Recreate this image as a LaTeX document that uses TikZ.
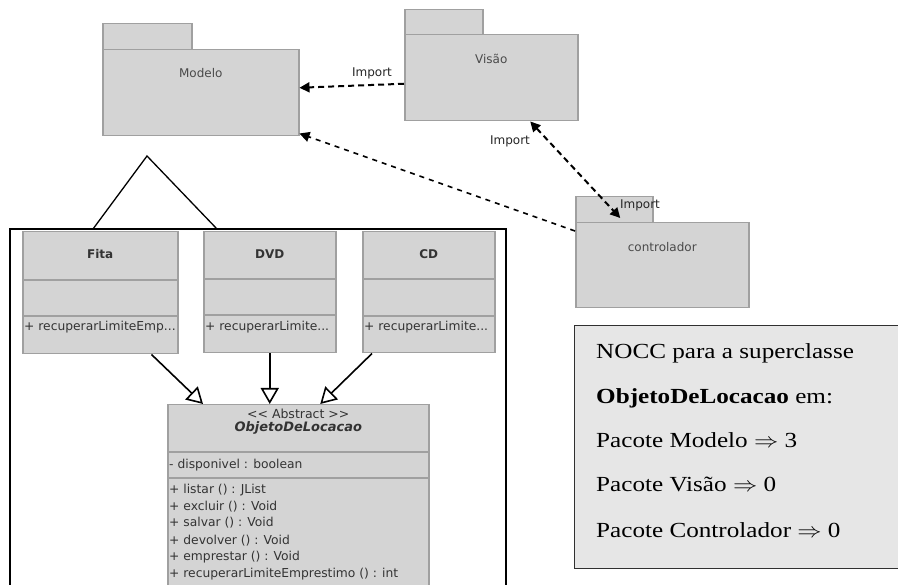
\documentclass[tikz,border=0pt]{standalone}
\usepackage{fontspec}
\usepackage{graphicx}
\setmainfont{Liberation Serif}
\newfontfamily\umlfont{DejaVu Sans}
\usetikzlibrary{arrows.meta}
\definecolor{umlfill}{HTML}{D4D4D4}
\definecolor{umlline}{HTML}{A0A0A0}
\definecolor{umltext}{HTML}{333333}
\definecolor{pkgtext}{HTML}{4A4A4A}
\definecolor{notefill}{HTML}{E6E6E6}
\definecolor{noteline}{HTML}{303030}
% horizontally widened serif text for the note
\newcommand{\widetext}[1]{\scalebox{1.17}[1]{#1}}
\begin{document}
\begin{tikzpicture}[x=1pt,y=-1pt,
  pkgbox/.style={draw=umlline, fill=umlfill, line width=1.5pt, anchor=north west, inner sep=0pt},
  pkgname/.style={font=\umlfont\fontsize{12}{14}\selectfont, text=pkgtext},
  classbox/.style={draw=umlline, fill=umlfill, line width=1.5pt, anchor=north west, inner sep=0pt},
  sepline/.style={draw=umlline, line width=1.5pt},
  cname/.style={font=\umlfont\bfseries\fontsize{12}{14}\selectfont, text=umltext},
  member/.style={font=\umlfont\fontsize{12.3}{15}\selectfont, text=umltext, anchor=base west, inner sep=0pt},
  dep/.style={line width=2pt, dash pattern=on 6pt off 4pt, -{Triangle[length=10pt,width=10pt]}},
  gen/.style={line width=1.6pt, -{Triangle[open,length=16pt,width=18pt]}},
  deplabel/.style={font=\umlfont\fontsize{12}{14}\selectfont, text=black!85},
  notetext/.style={font=\fontsize{21.5}{24}\selectfont, anchor=base west, inner sep=0pt}
]
\useasboundingbox (0,0) rectangle (898,585);
\fill[white] (0,0) rectangle (898,585);
\clip (0,0) rectangle (898,585);

% --- packages -------------------------------------------------------
\node[pkgbox, minimum width=89pt, minimum height=26pt] (modelo-tab) at (102,23) {};
\node[pkgbox, minimum width=196pt, minimum height=86pt] (modelo) at (102,49) {};
\node[pkgname] (modelo-name) at ([yshift=-24pt]modelo.north) {Modelo};

\node[pkgbox, minimum width=78pt, minimum height=25pt] (visao-tab) at (404,9) {};
\node[pkgbox, minimum width=173pt, minimum height=86pt] (visao) at (404,34) {};
\node[pkgname] (visao-name) at ([yshift=-25pt]visao.north) {Visão};

\node[pkgbox, minimum width=77pt, minimum height=26pt] (ctrl-tab) at (575,196) {};
\node[pkgbox, minimum width=173pt, minimum height=85pt] (ctrl) at (575,222) {};
\node[pkgname] (ctrl-name) at ([yshift=-25pt]ctrl.north) {controlador};

% --- import dependencies --------------------------------------------
\draw[dep] ([yshift=-6pt]visao.west) -- ([yshift=5pt]modelo.east);
\node[deplabel] (imp1) at (372,73) {Import};

\draw[dep, line width=1.6pt, dash pattern=on 5pt off 5pt] ([yshift=-9pt]ctrl.north west) -- ([yshift=3pt]modelo.south east);

\draw[dep, {Triangle[length=10pt,width=10pt]}-{Triangle[length=10pt,width=10pt]}]
  ([xshift=39pt]visao.south) -- ([xshift=-42pt,yshift=4pt]ctrl.north);
\node[deplabel] (imp2) at (510,141) {Import};
\node[deplabel] (imp3) at (640,205) {Import};

% --- package frame with its roof outline -----------------------------
\coordinate (frame-bl) at (10,590);
\coordinate (frame-tl) at (10,229);
\coordinate (frame-tr) at (506,229);
\coordinate (frame-br) at (506,590);
\coordinate (roof-l) at (93,229);
\coordinate (roof-top) at (147,156);
\coordinate (roof-r) at (217,229);
\draw[line width=1.3pt] (frame-bl) -- (frame-tl) -- (frame-tr) -- (frame-br);
\draw[line width=1.3pt] (roof-l) -- (roof-top) -- (roof-r);

% --- subclasses ------------------------------------------------------
\node[classbox, minimum width=155pt, minimum height=122pt] (fita) at (22,231) {};
\draw[sepline] ([yshift=-49pt]fita.north west) -- ([yshift=-49pt]fita.north east);
\draw[sepline] ([yshift=-85pt]fita.north west) -- ([yshift=-85pt]fita.north east);
\node[cname] (fita-name) at ([yshift=-23pt]fita.north) {Fita};
\node[member] (fita-op) at ([xshift=2pt,yshift=-100pt]fita.north west) {+ recuperarLimiteEmp...};

\node[classbox, minimum width=132pt, minimum height=121pt] (dvd) at (203,231) {};
\draw[sepline] ([yshift=-48pt]dvd.north west) -- ([yshift=-48pt]dvd.north east);
\draw[sepline] ([yshift=-84pt]dvd.north west) -- ([yshift=-84pt]dvd.north east);
\node[cname] (dvd-name) at ([yshift=-23pt]dvd.north) {DVD};
\node[member] (dvd-op) at ([xshift=2pt,yshift=-100pt]dvd.north west) {+ recuperarLimite...};

\node[classbox, minimum width=132pt, minimum height=121pt] (cd) at (362,231) {};
\draw[sepline] ([yshift=-48pt]cd.north west) -- ([yshift=-48pt]cd.north east);
\draw[sepline] ([yshift=-85pt]cd.north west) -- ([yshift=-85pt]cd.north east);
\node[cname] (cd-name) at ([yshift=-23pt]cd.north) {CD};
\node[member] (cd-op) at ([xshift=2pt,yshift=-100pt]cd.north west) {+ recuperarLimite...};

% --- abstract superclass ---------------------------------------------
\node[classbox, minimum width=261pt, minimum height=185pt] (obj) at (167,404) {};
\draw[sepline] ([yshift=-48pt]obj.north west) -- ([yshift=-48pt]obj.north east);
\draw[sepline] ([yshift=-74pt]obj.north west) -- ([yshift=-74pt]obj.north east);
\node[font=\umlfont\fontsize{12.5}{14}\selectfont, text=umltext] (obj-stereo) at ([yshift=-10pt]obj.north) {<< Abstract >>};
\node[font=\umlfont\bfseries\itshape\fontsize{13}{15}\selectfont, text=umltext] (obj-name) at ([yshift=-24pt]obj.north) {ObjetoDeLocacao};
\node[member] (obj-attr) at ([xshift=2pt,yshift=-65pt]obj.north west) {- disponivel : boolean};
\node[member] (obj-m1) at ([xshift=2pt,yshift=-90pt]obj.north west) {+ listar () : JList};
\node[member] (obj-m2) at ([xshift=2pt,yshift=-107pt]obj.north west) {+ excluir () : Void};
\node[member] (obj-m3) at ([xshift=2pt,yshift=-123pt]obj.north west) {+ salvar () : Void};
\node[member] (obj-m4) at ([xshift=2pt,yshift=-140pt]obj.north west) {+ devolver () : Void};
\node[member] (obj-m5) at ([xshift=2pt,yshift=-157pt]obj.north west) {+ emprestar () : Void};
\node[member] (obj-m6) at ([xshift=2pt,yshift=-173pt]obj.north west) {+ recuperarLimiteEmprestimo () : int};

% --- generalisations -------------------------------------------------
\draw[gen] ([xshift=-27pt]fita.south east) -- ([xshift=36pt]obj.north west);
\draw[gen] (dvd.south) -- (dvd.south |- obj.north);
\draw[gen] ([xshift=10pt]cd.south west) -- ([xshift=22pt]obj.north);

% --- NOCC note -------------------------------------------------------
\node[draw=noteline, fill=notefill, line width=1.3pt, anchor=north west, inner sep=0pt,
      minimum width=326pt, minimum height=243pt] (note) at (574,325) {};
\node[notetext] (note-l1) at ([xshift=22pt,yshift=-34pt]note.north west) {\widetext{NOCC para a superclasse}};
\node[notetext] (note-l2) at ([xshift=22pt,yshift=-79pt]note.north west) {\widetext{\textbf{ObjetoDeLocacao} em:}};
\node[notetext] (note-l3) at ([xshift=22pt,yshift=-123pt]note.north west) {\widetext{Pacote Modelo $\Rightarrow$ 3}};
\node[notetext] (note-l4) at ([xshift=22pt,yshift=-167pt]note.north west) {\widetext{Pacote Visão $\Rightarrow$ 0}};
\node[notetext] (note-l5) at ([xshift=22pt,yshift=-212pt]note.north west) {\widetext{Pacote Controlador $\Rightarrow$ 0}};
\end{tikzpicture}
\end{document}
